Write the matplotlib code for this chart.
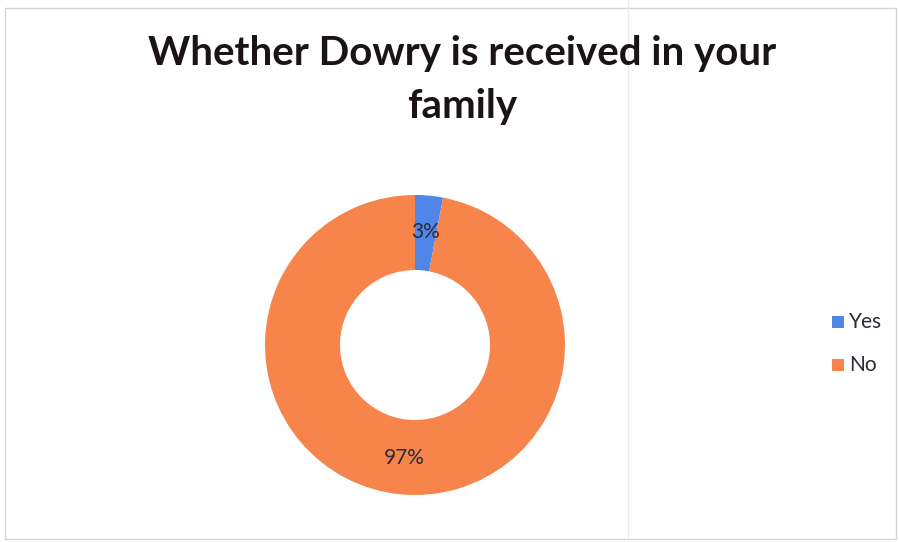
import matplotlib.pyplot as plt
from matplotlib.patches import Rectangle

categories = ["Yes", "No"]
values = [3, 97]
colors = ["#4F86E8", "#F6844B"]
title_lines = ["Whether Dowry is received in your", "family"]

W, H = 899, 542
fig = plt.figure(figsize=(W / 100, H / 100), dpi=100)
ax = fig.add_axes([0, 0, 1, 1])

# chart frame and a faint fold line on the page
ax.add_patch(Rectangle((5, 3), W - 8, H - 11, fill=False, edgecolor="#d4d4d4", linewidth=1))
ax.plot([628, 628], [0, H], color="#ececec", linewidth=1)

wedges, texts, autotexts = ax.pie(
    values,
    colors=colors,
    startangle=90,
    counterclock=False,
    center=(415, H - 345),
    radius=150,
    autopct="%d%%",
    pctdistance=0.755,
    wedgeprops=dict(width=75, edgecolor="none"),
    textprops=dict(fontsize=15, color="#2b2b38", family="Lato"),
    frame=True,
)
ax.set_xlim(0, W)
ax.set_ylim(0, H)
ax.set_aspect("equal")
ax.axis("off")

for i, line in enumerate(title_lines):
    ax.text(462, H - (65 + 53 * i), line, ha="center", va="baseline",
            fontsize=29, fontweight="bold", family="Lato", color="#1a1418")

# legend
for i, (cat, col) in enumerate(zip(categories, colors)):
    y = H - (322 + 43 * i)
    ax.add_patch(Rectangle((832, y - 6), 12, 12, facecolor=col, edgecolor="none"))
    ax.text(849, y, cat, fontsize=15, family="Lato", color="#2b2b38", va="center", ha="left")

fig.savefig("out.png", dpi=100)
